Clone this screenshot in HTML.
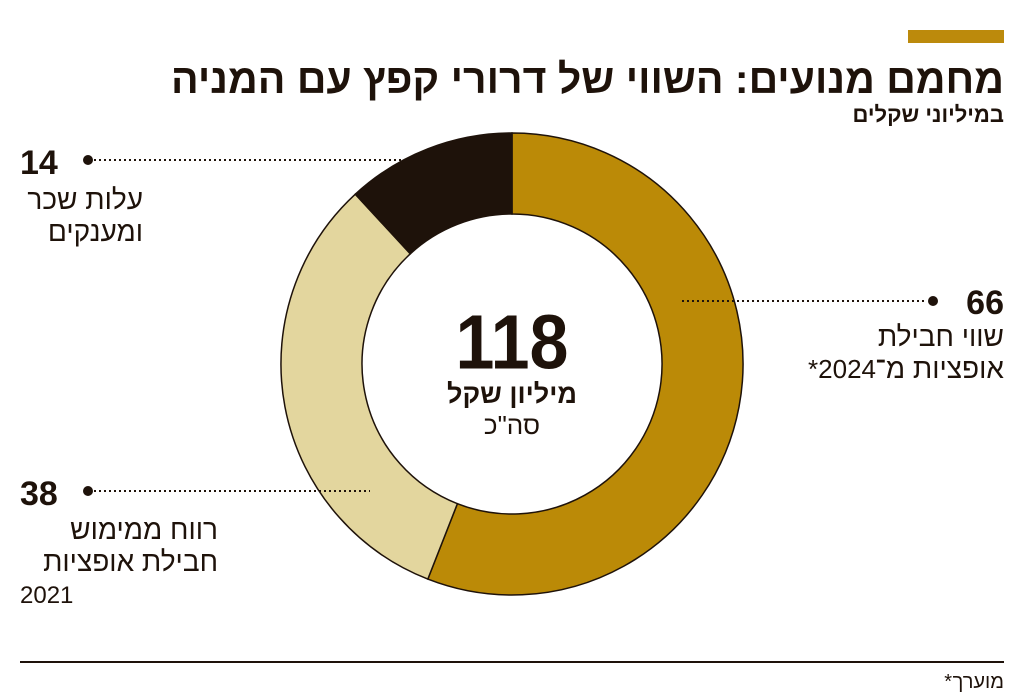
<!DOCTYPE html>
<html><head><meta charset="utf-8"><style>
body{margin:0;background:#fff;}
svg{display:block;}
text{font-family:"Liberation Sans","Noto Sans CJK JP",sans-serif;fill:#1e120a;}
</style></head><body>
<svg width="1024" height="699" viewBox="0 0 1024 699">
<rect x="908" y="30" width="96" height="13" fill="#bc8a0c"/>
<text x="1004" y="93" text-anchor="end" font-size="41" font-weight="bold">מחמם מנועים: השווי של דרורי קפץ עם המניה</text>
<text x="1004" y="122" text-anchor="end" font-size="22" font-weight="bold">במיליוני שקלים</text>
<g stroke="#1e120a" stroke-width="1.5">
<path d="M512 133 A231 231 0 1 1 427.8 579.1 L457.4 503.7 A150 150 0 1 0 512 214 Z" fill="#bb8a07"/>
<path d="M427.8 579.1 A231 231 0 0 1 355.3 194.2 L410.3 253.8 A150 150 0 0 0 457.4 503.7 Z" fill="#e3d69e"/>
<path d="M355.3 194.2 A231 231 0 0 1 512 133 L512 214 A150 150 0 0 0 410.3 253.8 Z" fill="#1e120a"/>
</g>
<text x="512" y="368" text-anchor="middle" font-size="70" font-weight="bold" transform="translate(512 0) scale(1 1.1) translate(-512 -33)">118</text>
<text x="512" y="403" text-anchor="middle" font-size="27" font-weight="bold">מיליון שקל</text>
<text x="512" y="434" text-anchor="middle" font-size="26">סה"כ</text>
<g stroke="#1e120a" stroke-width="2" stroke-dasharray="2 3">
<line x1="94" y1="160" x2="412" y2="160"/>
<line x1="682" y1="301" x2="926" y2="301"/>
<line x1="94" y1="491" x2="370" y2="491"/>
</g>
<circle cx="88" cy="160" r="5" fill="#1e120a"/>
<circle cx="933" cy="301" r="5" fill="#1e120a"/>
<circle cx="88" cy="491" r="5" fill="#1e120a"/>
<text x="20" y="174" font-size="34" font-weight="bold">14</text>
<text x="143" y="209" text-anchor="end" font-size="28">עלות שכר</text>
<text x="143" y="241" text-anchor="end" font-size="28">ומענקים</text>
<text x="1004" y="314" text-anchor="end" font-size="34" font-weight="bold">66</text>
<text x="1004" y="346" text-anchor="end" font-size="28">שווי חבילת</text>
<text x="1004" y="378" text-anchor="end" font-size="28">אופציות מ־</text>
<text x="876" y="378" text-anchor="end" font-size="26">*2024</text>
<text x="20" y="505" font-size="34" font-weight="bold">38</text>
<text x="218" y="539" text-anchor="end" font-size="28">רווח ממימוש</text>
<text x="218" y="571" text-anchor="end" font-size="28">חבילת אופציות</text>
<text x="20" y="603" font-size="24">2021</text>
<line x1="20" y1="662" x2="1004" y2="662" stroke="#1e120a" stroke-width="2"/>
<text x="1004" y="688" text-anchor="end" font-size="20">מוערך</text>
<text x="952" y="688" text-anchor="end" font-size="20">*</text>
</svg>
</body></html>
